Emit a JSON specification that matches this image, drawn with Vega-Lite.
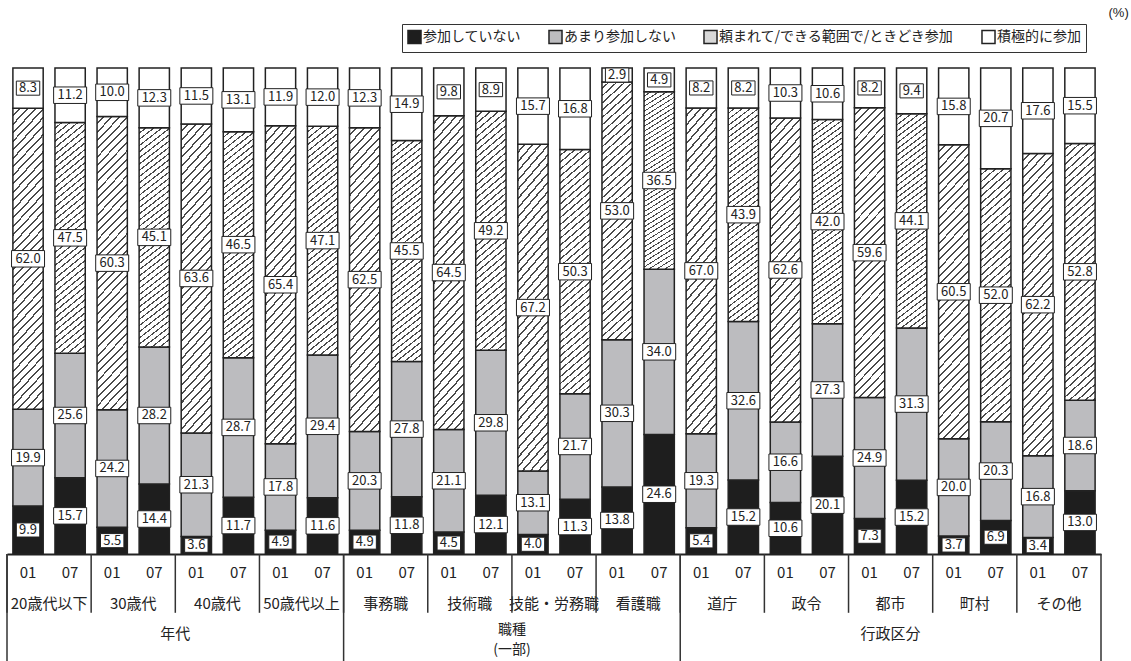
{
  "$schema": "https://vega.github.io/schema/vega-lite/v6.json",
  "width": 1094,
  "height": 486,
  "autosize": {"type": "none"},
  "padding": {"left": 7, "top": 68, "right": 30, "bottom": 107},
  "background": "white",
  "config": {
    "font": "Noto Sans CJK JP",
    "view": {"stroke": null},
    "text": {"color": "#222"}
  },
  "title": {
    "text": "(%)",
    "anchor": "end",
    "orient": "top",
    "offset": 4,
    "dx": 27,
    "fontSize": 13,
    "fontWeight": "normal",
    "color": "#222",
    "font": "Liberation Sans"
  },
  "params": [
    {
      "name": "hatch",
      "value": {
        "gradient": "linear",
        "x1": 0, "y1": 0, "x2": 0.12, "y2": 1.12,
        "stops": [
          {"offset": 0, "color": "#ffffff"}, {"offset": 0.019, "color": "#ffffff"}, {"offset": 0.019, "color": "#4a4a4a"}, {"offset": 0.025, "color": "#4a4a4a"},
          {"offset": 0.025, "color": "#ffffff"}, {"offset": 0.044, "color": "#ffffff"}, {"offset": 0.044, "color": "#4a4a4a"}, {"offset": 0.05, "color": "#4a4a4a"},
          {"offset": 0.05, "color": "#ffffff"}, {"offset": 0.069, "color": "#ffffff"}, {"offset": 0.069, "color": "#4a4a4a"}, {"offset": 0.075, "color": "#4a4a4a"},
          {"offset": 0.075, "color": "#ffffff"}, {"offset": 0.094, "color": "#ffffff"}, {"offset": 0.094, "color": "#4a4a4a"}, {"offset": 0.1, "color": "#4a4a4a"},
          {"offset": 0.1, "color": "#ffffff"}, {"offset": 0.119, "color": "#ffffff"}, {"offset": 0.119, "color": "#4a4a4a"}, {"offset": 0.125, "color": "#4a4a4a"},
          {"offset": 0.125, "color": "#ffffff"}, {"offset": 0.144, "color": "#ffffff"}, {"offset": 0.144, "color": "#4a4a4a"}, {"offset": 0.15, "color": "#4a4a4a"},
          {"offset": 0.15, "color": "#ffffff"}, {"offset": 0.169, "color": "#ffffff"}, {"offset": 0.169, "color": "#4a4a4a"}, {"offset": 0.175, "color": "#4a4a4a"},
          {"offset": 0.175, "color": "#ffffff"}, {"offset": 0.194, "color": "#ffffff"}, {"offset": 0.194, "color": "#4a4a4a"}, {"offset": 0.2, "color": "#4a4a4a"},
          {"offset": 0.2, "color": "#ffffff"}, {"offset": 0.219, "color": "#ffffff"}, {"offset": 0.219, "color": "#4a4a4a"}, {"offset": 0.225, "color": "#4a4a4a"},
          {"offset": 0.225, "color": "#ffffff"}, {"offset": 0.244, "color": "#ffffff"}, {"offset": 0.244, "color": "#4a4a4a"}, {"offset": 0.25, "color": "#4a4a4a"},
          {"offset": 0.25, "color": "#ffffff"}, {"offset": 0.269, "color": "#ffffff"}, {"offset": 0.269, "color": "#4a4a4a"}, {"offset": 0.275, "color": "#4a4a4a"},
          {"offset": 0.275, "color": "#ffffff"}, {"offset": 0.294, "color": "#ffffff"}, {"offset": 0.294, "color": "#4a4a4a"}, {"offset": 0.3, "color": "#4a4a4a"},
          {"offset": 0.3, "color": "#ffffff"}, {"offset": 0.319, "color": "#ffffff"}, {"offset": 0.319, "color": "#4a4a4a"}, {"offset": 0.325, "color": "#4a4a4a"},
          {"offset": 0.325, "color": "#ffffff"}, {"offset": 0.344, "color": "#ffffff"}, {"offset": 0.344, "color": "#4a4a4a"}, {"offset": 0.35, "color": "#4a4a4a"},
          {"offset": 0.35, "color": "#ffffff"}, {"offset": 0.369, "color": "#ffffff"}, {"offset": 0.369, "color": "#4a4a4a"}, {"offset": 0.375, "color": "#4a4a4a"},
          {"offset": 0.375, "color": "#ffffff"}, {"offset": 0.394, "color": "#ffffff"}, {"offset": 0.394, "color": "#4a4a4a"}, {"offset": 0.4, "color": "#4a4a4a"},
          {"offset": 0.4, "color": "#ffffff"}, {"offset": 0.419, "color": "#ffffff"}, {"offset": 0.419, "color": "#4a4a4a"}, {"offset": 0.425, "color": "#4a4a4a"},
          {"offset": 0.425, "color": "#ffffff"}, {"offset": 0.444, "color": "#ffffff"}, {"offset": 0.444, "color": "#4a4a4a"}, {"offset": 0.45, "color": "#4a4a4a"},
          {"offset": 0.45, "color": "#ffffff"}, {"offset": 0.469, "color": "#ffffff"}, {"offset": 0.469, "color": "#4a4a4a"}, {"offset": 0.475, "color": "#4a4a4a"},
          {"offset": 0.475, "color": "#ffffff"}, {"offset": 0.494, "color": "#ffffff"}, {"offset": 0.494, "color": "#4a4a4a"}, {"offset": 0.5, "color": "#4a4a4a"},
          {"offset": 0.5, "color": "#ffffff"}, {"offset": 0.519, "color": "#ffffff"}, {"offset": 0.519, "color": "#4a4a4a"}, {"offset": 0.525, "color": "#4a4a4a"},
          {"offset": 0.525, "color": "#ffffff"}, {"offset": 0.544, "color": "#ffffff"}, {"offset": 0.544, "color": "#4a4a4a"}, {"offset": 0.55, "color": "#4a4a4a"},
          {"offset": 0.55, "color": "#ffffff"}, {"offset": 0.569, "color": "#ffffff"}, {"offset": 0.569, "color": "#4a4a4a"}, {"offset": 0.575, "color": "#4a4a4a"},
          {"offset": 0.575, "color": "#ffffff"}, {"offset": 0.594, "color": "#ffffff"}, {"offset": 0.594, "color": "#4a4a4a"}, {"offset": 0.6, "color": "#4a4a4a"},
          {"offset": 0.6, "color": "#ffffff"}, {"offset": 0.619, "color": "#ffffff"}, {"offset": 0.619, "color": "#4a4a4a"}, {"offset": 0.625, "color": "#4a4a4a"},
          {"offset": 0.625, "color": "#ffffff"}, {"offset": 0.644, "color": "#ffffff"}, {"offset": 0.644, "color": "#4a4a4a"}, {"offset": 0.65, "color": "#4a4a4a"},
          {"offset": 0.65, "color": "#ffffff"}, {"offset": 0.669, "color": "#ffffff"}, {"offset": 0.669, "color": "#4a4a4a"}, {"offset": 0.675, "color": "#4a4a4a"},
          {"offset": 0.675, "color": "#ffffff"}, {"offset": 0.694, "color": "#ffffff"}, {"offset": 0.694, "color": "#4a4a4a"}, {"offset": 0.7, "color": "#4a4a4a"},
          {"offset": 0.7, "color": "#ffffff"}, {"offset": 0.719, "color": "#ffffff"}, {"offset": 0.719, "color": "#4a4a4a"}, {"offset": 0.725, "color": "#4a4a4a"},
          {"offset": 0.725, "color": "#ffffff"}, {"offset": 0.744, "color": "#ffffff"}, {"offset": 0.744, "color": "#4a4a4a"}, {"offset": 0.75, "color": "#4a4a4a"},
          {"offset": 0.75, "color": "#ffffff"}, {"offset": 0.769, "color": "#ffffff"}, {"offset": 0.769, "color": "#4a4a4a"}, {"offset": 0.775, "color": "#4a4a4a"},
          {"offset": 0.775, "color": "#ffffff"}, {"offset": 0.794, "color": "#ffffff"}, {"offset": 0.794, "color": "#4a4a4a"}, {"offset": 0.8, "color": "#4a4a4a"},
          {"offset": 0.8, "color": "#ffffff"}, {"offset": 0.819, "color": "#ffffff"}, {"offset": 0.819, "color": "#4a4a4a"}, {"offset": 0.825, "color": "#4a4a4a"},
          {"offset": 0.825, "color": "#ffffff"}, {"offset": 0.844, "color": "#ffffff"}, {"offset": 0.844, "color": "#4a4a4a"}, {"offset": 0.85, "color": "#4a4a4a"},
          {"offset": 0.85, "color": "#ffffff"}, {"offset": 0.869, "color": "#ffffff"}, {"offset": 0.869, "color": "#4a4a4a"}, {"offset": 0.875, "color": "#4a4a4a"},
          {"offset": 0.875, "color": "#ffffff"}, {"offset": 0.894, "color": "#ffffff"}, {"offset": 0.894, "color": "#4a4a4a"}, {"offset": 0.9, "color": "#4a4a4a"},
          {"offset": 0.9, "color": "#ffffff"}, {"offset": 0.919, "color": "#ffffff"}, {"offset": 0.919, "color": "#4a4a4a"}, {"offset": 0.925, "color": "#4a4a4a"},
          {"offset": 0.925, "color": "#ffffff"}, {"offset": 0.944, "color": "#ffffff"}, {"offset": 0.944, "color": "#4a4a4a"}, {"offset": 0.95, "color": "#4a4a4a"},
          {"offset": 0.95, "color": "#ffffff"}, {"offset": 0.969, "color": "#ffffff"}, {"offset": 0.969, "color": "#4a4a4a"}, {"offset": 0.975, "color": "#4a4a4a"},
          {"offset": 0.975, "color": "#ffffff"}, {"offset": 1, "color": "#ffffff"}
        ]
      }
    },
    {
      "name": "hatchKey",
      "value": {
        "gradient": "linear",
        "x1": 0, "y1": 0, "x2": 1, "y2": 1,
        "stops": [
          {"offset": 0, "color": "#ffffff"}, {"offset": 0.16, "color": "#ffffff"}, {"offset": 0.16, "color": "#333333"}, {"offset": 0.24, "color": "#333333"},
          {"offset": 0.24, "color": "#ffffff"}, {"offset": 0.46, "color": "#ffffff"}, {"offset": 0.46, "color": "#333333"}, {"offset": 0.54, "color": "#333333"},
          {"offset": 0.54, "color": "#ffffff"}, {"offset": 0.76, "color": "#ffffff"}, {"offset": 0.76, "color": "#333333"}, {"offset": 0.84, "color": "#333333"},
          {"offset": 0.84, "color": "#ffffff"}, {"offset": 1, "color": "#ffffff"}
        ]
      }
    }
  ],
  "datasets": {
    "survey": [
      {"major": "年代", "group": "20歳代以下", "year": "01", "参加していない": 9.9, "あまり参加しない": 19.9, "頼まれて/できる範囲で/ときどき参加": 62.0, "積極的に参加": 8.3},
      {"major": "年代", "group": "20歳代以下", "year": "07", "参加していない": 15.7, "あまり参加しない": 25.6, "頼まれて/できる範囲で/ときどき参加": 47.5, "積極的に参加": 11.2},
      {"major": "年代", "group": "30歳代", "year": "01", "参加していない": 5.5, "あまり参加しない": 24.2, "頼まれて/できる範囲で/ときどき参加": 60.3, "積極的に参加": 10.0},
      {"major": "年代", "group": "30歳代", "year": "07", "参加していない": 14.4, "あまり参加しない": 28.2, "頼まれて/できる範囲で/ときどき参加": 45.1, "積極的に参加": 12.3},
      {"major": "年代", "group": "40歳代", "year": "01", "参加していない": 3.6, "あまり参加しない": 21.3, "頼まれて/できる範囲で/ときどき参加": 63.6, "積極的に参加": 11.5},
      {"major": "年代", "group": "40歳代", "year": "07", "参加していない": 11.7, "あまり参加しない": 28.7, "頼まれて/できる範囲で/ときどき参加": 46.5, "積極的に参加": 13.1},
      {"major": "年代", "group": "50歳代以上", "year": "01", "参加していない": 4.9, "あまり参加しない": 17.8, "頼まれて/できる範囲で/ときどき参加": 65.4, "積極的に参加": 11.9},
      {"major": "年代", "group": "50歳代以上", "year": "07", "参加していない": 11.6, "あまり参加しない": 29.4, "頼まれて/できる範囲で/ときどき参加": 47.1, "積極的に参加": 12.0},
      {"major": "職種", "group": "事務職", "year": "01", "参加していない": 4.9, "あまり参加しない": 20.3, "頼まれて/できる範囲で/ときどき参加": 62.5, "積極的に参加": 12.3},
      {"major": "職種", "group": "事務職", "year": "07", "参加していない": 11.8, "あまり参加しない": 27.8, "頼まれて/できる範囲で/ときどき参加": 45.5, "積極的に参加": 14.9},
      {"major": "職種", "group": "技術職", "year": "01", "参加していない": 4.5, "あまり参加しない": 21.1, "頼まれて/できる範囲で/ときどき参加": 64.5, "積極的に参加": 9.8},
      {"major": "職種", "group": "技術職", "year": "07", "参加していない": 12.1, "あまり参加しない": 29.8, "頼まれて/できる範囲で/ときどき参加": 49.2, "積極的に参加": 8.9},
      {"major": "職種", "group": "技能・労務職", "year": "01", "参加していない": 4.0, "あまり参加しない": 13.1, "頼まれて/できる範囲で/ときどき参加": 67.2, "積極的に参加": 15.7},
      {"major": "職種", "group": "技能・労務職", "year": "07", "参加していない": 11.3, "あまり参加しない": 21.7, "頼まれて/できる範囲で/ときどき参加": 50.3, "積極的に参加": 16.8},
      {"major": "職種", "group": "看護職", "year": "01", "参加していない": 13.8, "あまり参加しない": 30.3, "頼まれて/できる範囲で/ときどき参加": 53.0, "積極的に参加": 2.9},
      {"major": "職種", "group": "看護職", "year": "07", "参加していない": 24.6, "あまり参加しない": 34.0, "頼まれて/できる範囲で/ときどき参加": 36.5, "積極的に参加": 4.9},
      {"major": "行政区分", "group": "道庁", "year": "01", "参加していない": 5.4, "あまり参加しない": 19.3, "頼まれて/できる範囲で/ときどき参加": 67.0, "積極的に参加": 8.2},
      {"major": "行政区分", "group": "道庁", "year": "07", "参加していない": 15.2, "あまり参加しない": 32.6, "頼まれて/できる範囲で/ときどき参加": 43.9, "積極的に参加": 8.2},
      {"major": "行政区分", "group": "政令", "year": "01", "参加していない": 10.6, "あまり参加しない": 16.6, "頼まれて/できる範囲で/ときどき参加": 62.6, "積極的に参加": 10.3},
      {"major": "行政区分", "group": "政令", "year": "07", "参加していない": 20.1, "あまり参加しない": 27.3, "頼まれて/できる範囲で/ときどき参加": 42.0, "積極的に参加": 10.6},
      {"major": "行政区分", "group": "都市", "year": "01", "参加していない": 7.3, "あまり参加しない": 24.9, "頼まれて/できる範囲で/ときどき参加": 59.6, "積極的に参加": 8.2},
      {"major": "行政区分", "group": "都市", "year": "07", "参加していない": 15.2, "あまり参加しない": 31.3, "頼まれて/できる範囲で/ときどき参加": 44.1, "積極的に参加": 9.4},
      {"major": "行政区分", "group": "町村", "year": "01", "参加していない": 3.7, "あまり参加しない": 20.0, "頼まれて/できる範囲で/ときどき参加": 60.5, "積極的に参加": 15.8},
      {"major": "行政区分", "group": "町村", "year": "07", "参加していない": 6.9, "あまり参加しない": 20.3, "頼まれて/できる範囲で/ときどき参加": 52.0, "積極的に参加": 20.7},
      {"major": "行政区分", "group": "その他", "year": "01", "参加していない": 3.4, "あまり参加しない": 16.8, "頼まれて/できる範囲で/ときどき参加": 62.2, "積極的に参加": 17.6},
      {"major": "行政区分", "group": "その他", "year": "07", "参加していない": 13.0, "あまり参加しない": 18.6, "頼まれて/できる範囲で/ときどき参加": 52.8, "積極的に参加": 15.5}
    ]
  },
  "data": {"name": "survey"},
  "transform": [
    {"fold": ["参加していない", "あまり参加しない", "頼まれて/できる範囲で/ときどき参加", "積極的に参加"], "as": ["answer", "pct"]},
    {"calculate": "indexof(['参加していない', 'あまり参加しない', '頼まれて/できる範囲で/ときどき参加', '積極的に参加'], datum.answer)", "as": "rank"},
    {"stack": "pct", "groupby": ["group", "year"], "offset": "normalize", "sort": [{"field": "rank", "order": "ascending"}], "as": ["y0", "y1"]},
    {"calculate": "(datum.y0 + datum.y1) / 2", "as": "mid"}
  ],
  "layer": [
    {
      "mark": {"type": "bar", "stroke": "#222", "strokeWidth": 1.5},
      "encoding": {
        "x": {
          "field": "group",
          "type": "nominal",
          "sort": ["20歳代以下", "30歳代", "40歳代", "50歳代以上", "事務職", "技術職", "技能・労務職", "看護職", "道庁", "政令", "都市", "町村", "その他"],
          "scale": {"paddingInner": 0, "paddingOuter": 0},
          "axis": {
            "title": null,
            "ticks": false,
            "labelAngle": 0,
            "labelFontSize": 15,
            "labelColor": "#222",
            "labelPadding": 42,
            "domainColor": "#222",
            "domainWidth": 2
          }
        },
        "xOffset": {"field": "year", "type": "nominal", "scale": {"paddingInner": 0.28, "paddingOuter": 0.14}},
        "y": {"field": "y0", "type": "quantitative", "scale": {"domain": [0, 1]}, "axis": null},
        "y2": {"field": "y1"},
        "fill": {
          "condition": {"test": "datum.answer === '頼まれて/できる範囲で/ときどき参加'", "value": {"expr": "hatch"}},
          "field": "answer",
          "type": "nominal",
          "scale": {
            "domain": ["参加していない", "あまり参加しない", "頼まれて/できる範囲で/ときどき参加", "積極的に参加"],
            "range": ["#1e1e1e", "#bcbcbf", "#d8d8d8", "#ffffff"]
          },
          "legend": {
            "orient": "none",
            "legendX": 395,
            "legendY": -44,
            "direction": "horizontal",
            "columns": 4,
            "title": null,
            "symbolType": "square",
            "symbolSize": 170,
            "labelFontSize": 14,
            "labelColor": "#222",
            "labelLimit": 400,
            "labelOffset": 1,
            "columnPadding": 24,
            "padding": 5,
            "strokeColor": "#333",
            "encode": {
              "symbols": {
                "update": {
                  "fill": [
                    {"test": "datum.value === '頼まれて/できる範囲で/ときどき参加'", "signal": "hatchKey"},
                    {"scale": "fill", "field": "value"}
                  ],
                  "stroke": {"value": "#222"},
                  "strokeWidth": {"value": 1},
                  "opacity": {"value": 1}
                }
              }
            }
          }
        }
      }
    },
    {
      "mark": {"type": "point", "filled": true, "fill": "#ffffff", "stroke": "#222", "strokeWidth": 1, "size": 900, "opacity": 1},
      "encoding": {
        "x": {"field": "group", "type": "nominal", "sort": ["20歳代以下", "30歳代", "40歳代", "50歳代以上", "事務職", "技術職", "技能・労務職", "看護職", "道庁", "政令", "都市", "町村", "その他"]},
        "xOffset": {"field": "year", "type": "nominal"},
        "y": {"field": "mid", "type": "quantitative", "scale": {"domain": [0, 1]}},
        "shape": {
          "condition": {"test": "datum.pct < 10", "value": "M-0.78,-0.47H0.78V0.47H-0.78Z"},
          "value": "M-1.1,-0.55H1.1V0.55H-1.1Z"
        }
      }
    },
    {
      "mark": {"type": "text", "fontSize": 13, "baseline": "middle", "align": "center"},
      "encoding": {
        "x": {"field": "group", "type": "nominal", "sort": ["20歳代以下", "30歳代", "40歳代", "50歳代以上", "事務職", "技術職", "技能・労務職", "看護職", "道庁", "政令", "都市", "町村", "その他"]},
        "xOffset": {"field": "year", "type": "nominal"},
        "y": {"field": "mid", "type": "quantitative", "scale": {"domain": [0, 1]}},
        "text": {"field": "pct", "type": "quantitative", "format": ".1f"}
      }
    },
    {
      "transform": [{"filter": "datum.answer === '参加していない'"}],
      "mark": {"type": "text", "fontSize": 15, "baseline": "middle", "align": "center"},
      "encoding": {
        "x": {"field": "group", "type": "nominal", "sort": ["20歳代以下", "30歳代", "40歳代", "50歳代以上", "事務職", "技術職", "技能・労務職", "看護職", "道庁", "政令", "都市", "町村", "その他"]},
        "xOffset": {"field": "year", "type": "nominal"},
        "y": {"datum": -0.039, "type": "quantitative", "scale": {"domain": [0, 1]}},
        "text": {"field": "year"}
      }
    },
    {
      "transform": [{"filter": "datum.answer === '参加していない' && datum.year === '01'"}],
      "mark": {"type": "rule", "stroke": "#333", "strokeWidth": 1.5},
      "encoding": {
        "x": {"field": "group", "type": "nominal", "bandPosition": 0, "sort": ["20歳代以下", "30歳代", "40歳代", "50歳代以上", "事務職", "技術職", "技能・労務職", "看護職", "道庁", "政令", "都市", "町村", "その他"]},
        "y": {"datum": 0, "type": "quantitative", "scale": {"domain": [0, 1]}},
        "y2": {"datum": -0.121}
      }
    },
    {
      "transform": [{"filter": "datum.answer === '参加していない' && datum.year === '01' && indexof(['20歳代以下', '事務職', '道庁'], datum.group) >= 0"}],
      "mark": {"type": "rule", "stroke": "#333", "strokeWidth": 1.5},
      "encoding": {
        "x": {"field": "group", "type": "nominal", "bandPosition": 0, "sort": ["20歳代以下", "30歳代", "40歳代", "50歳代以上", "事務職", "技術職", "技能・労務職", "看護職", "道庁", "政令", "都市", "町村", "その他"]},
        "y": {"datum": 0, "type": "quantitative", "scale": {"domain": [0, 1]}},
        "y2": {"datum": -0.221}
      }
    },
    {
      "transform": [{"filter": "datum.answer === '参加していない' && datum.year === '07' && datum.group === 'その他'"}],
      "mark": {"type": "rule", "stroke": "#333", "strokeWidth": 1.5},
      "encoding": {
        "x": {"field": "group", "type": "nominal", "bandPosition": 1, "sort": ["20歳代以下", "30歳代", "40歳代", "50歳代以上", "事務職", "技術職", "技能・労務職", "看護職", "道庁", "政令", "都市", "町村", "その他"]},
        "y": {"datum": 0, "type": "quantitative", "scale": {"domain": [0, 1]}},
        "y2": {"datum": -0.221}
      }
    },
    {
      "transform": [{"filter": "datum.answer === '参加していない' && datum.year === '07' && datum.group === '30歳代'"}],
      "mark": {"type": "text", "fontSize": 15, "baseline": "middle", "align": "center", "text": "年代"},
      "encoding": {
        "x": {"field": "group", "type": "nominal", "bandPosition": 1, "sort": ["20歳代以下", "30歳代", "40歳代", "50歳代以上", "事務職", "技術職", "技能・労務職", "看護職", "道庁", "政令", "都市", "町村", "その他"]},
        "y": {"datum": -0.165, "type": "quantitative", "scale": {"domain": [0, 1]}}
      }
    },
    {
      "transform": [{"filter": "datum.answer === '参加していない' && datum.year === '07' && datum.group === '技術職'"}],
      "mark": {"type": "text", "fontSize": 14, "baseline": "middle", "align": "center", "text": ["職種", "(一部)"], "lineHeight": 20},
      "encoding": {
        "x": {"field": "group", "type": "nominal", "bandPosition": 1, "sort": ["20歳代以下", "30歳代", "40歳代", "50歳代以上", "事務職", "技術職", "技能・労務職", "看護職", "道庁", "政令", "都市", "町村", "その他"]},
        "y": {"datum": -0.156, "type": "quantitative", "scale": {"domain": [0, 1]}}
      }
    },
    {
      "transform": [{"filter": "datum.answer === '参加していない' && datum.year === '01' && datum.group === '都市'"}],
      "mark": {"type": "text", "fontSize": 15, "baseline": "middle", "align": "center", "text": "行政区分"},
      "encoding": {
        "x": {"field": "group", "type": "nominal", "bandPosition": 0.5, "sort": ["20歳代以下", "30歳代", "40歳代", "50歳代以上", "事務職", "技術職", "技能・労務職", "看護職", "道庁", "政令", "都市", "町村", "その他"]},
        "y": {"datum": -0.165, "type": "quantitative", "scale": {"domain": [0, 1]}}
      }
    }
  ]
}
